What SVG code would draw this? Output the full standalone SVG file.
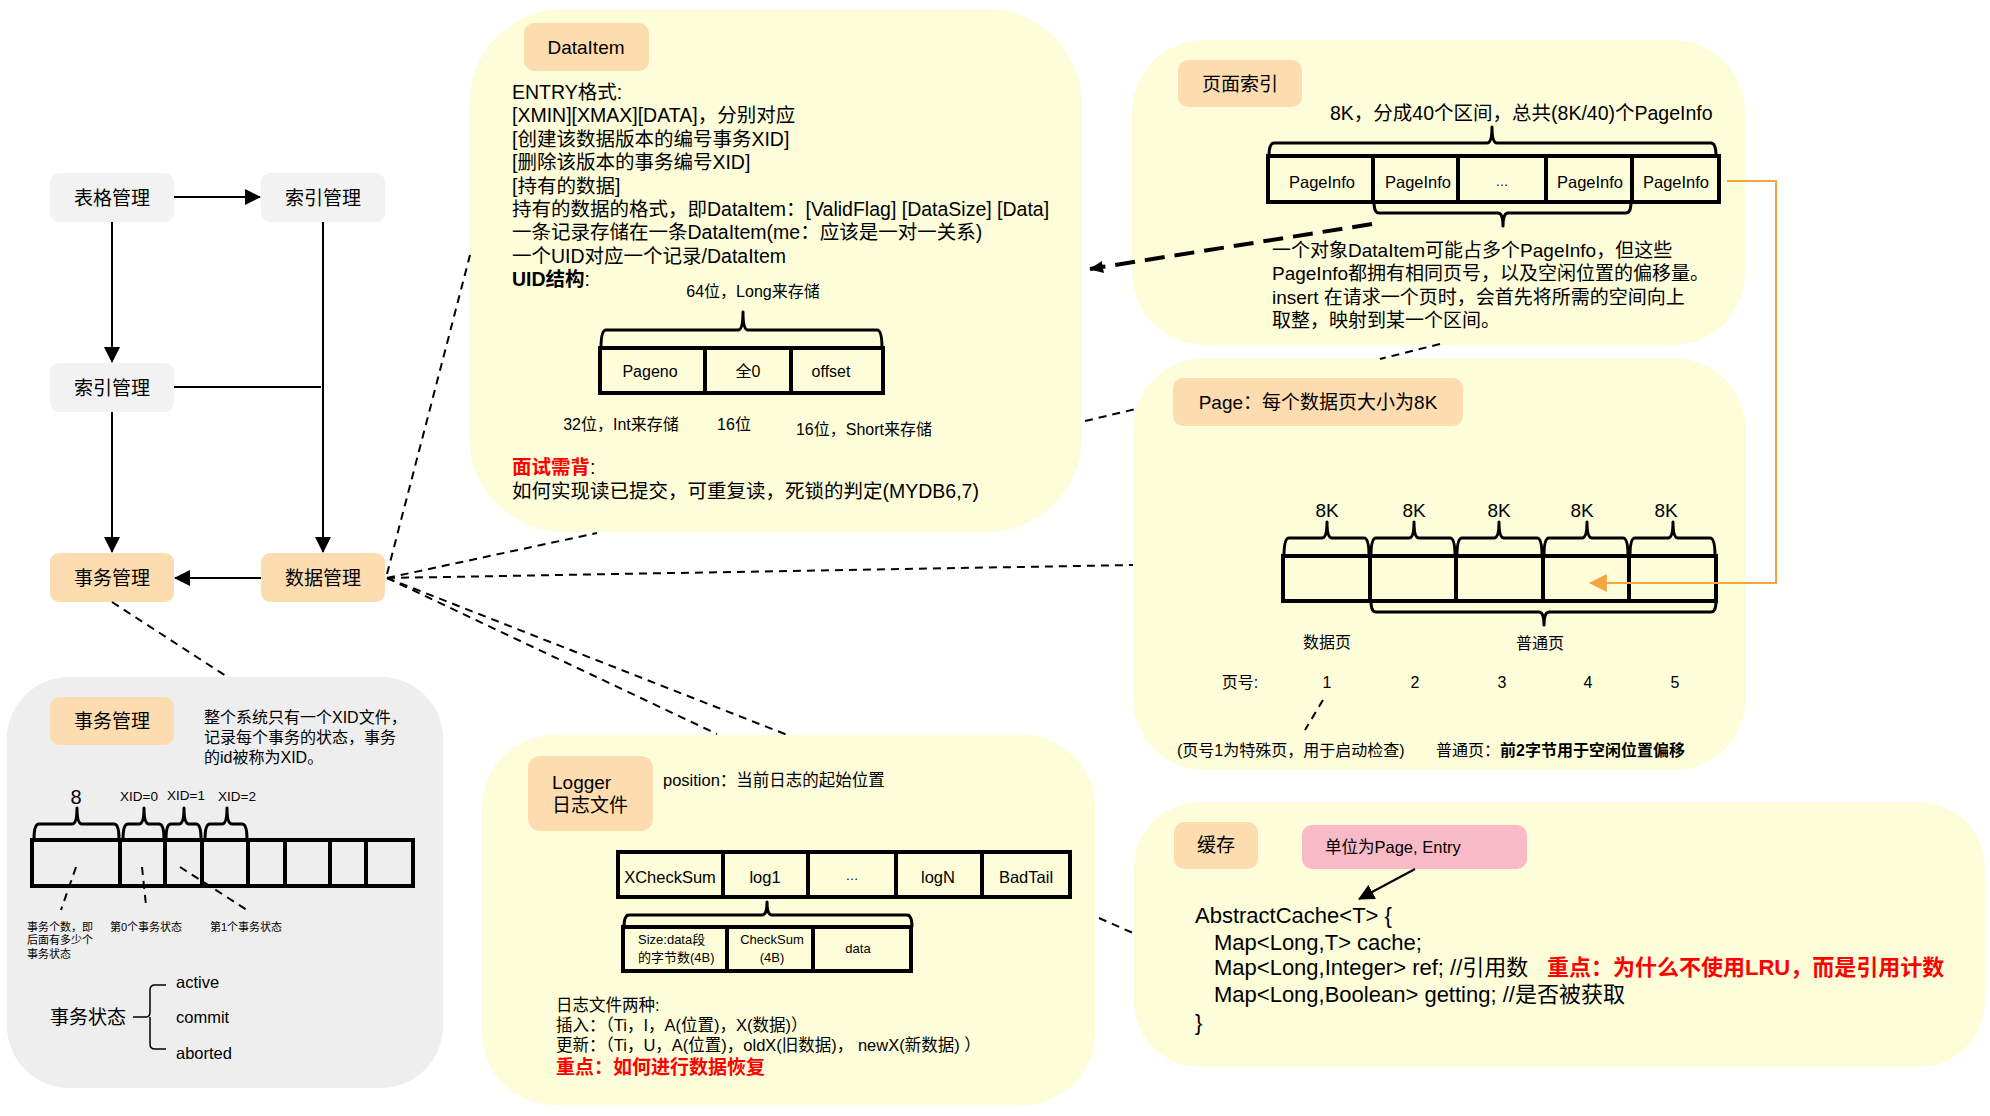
<svg xmlns="http://www.w3.org/2000/svg" width="1990" height="1116" viewBox="0 0 1990 1116">
<style>
text{font-family:"Liberation Sans","Noto Sans CJK SC",sans-serif;fill:#000}
.m{text-anchor:middle}
.gray{fill:#f2f2f2}
.org{fill:#fddcb0}
.panel{fill:#fdfdda}
.grid{fill:none;stroke:#000;stroke-width:4}
.brace{fill:none;stroke:#000;stroke-width:3;stroke-linejoin:round}
.solid{stroke:#000;stroke-width:2;fill:none}
.dash{stroke:#000;stroke-width:2;stroke-dasharray:8 6;fill:none}
.red{fill:#ff0000;font-weight:bold}
.b{font-weight:bold}
</style>
<defs>
<marker id="ah" viewBox="0 0 16 16" markerWidth="16" markerHeight="16" refX="15" refY="8" orient="auto" markerUnits="userSpaceOnUse"><path d="M0,0 L16,8 L0,16 z" fill="#000"/></marker>
<marker id="ahs" viewBox="0 0 16 16" markerWidth="14" markerHeight="14" refX="15" refY="8" orient="auto" markerUnits="userSpaceOnUse"><path d="M0,1 L16,8 L0,15 z" fill="#000"/></marker>
<marker id="aho" viewBox="0 0 16 16" markerWidth="18" markerHeight="18" refX="15" refY="8" orient="auto" markerUnits="userSpaceOnUse"><path d="M0,0 L16,8 L0,16 z" fill="#f5a540"/></marker>
</defs>

<!-- panels -->
<g id="panel-xid">
<rect x="7" y="677" width="436" height="411" rx="62" fill="#eeeeee"/>
<rect x="50" y="697" width="124" height="48" rx="9" class="org"/>
<text x="112" y="728" class="m" font-size="19">事务管理</text>
<text x="204" y="723" font-size="16">整个系统只有一个XID文件，</text>
<text x="204" y="743" font-size="16">记录每个事务的状态，事务</text>
<text x="204" y="763" font-size="16">的id被称为XID。</text>
<text x="76" y="804" class="m" font-size="20">8</text>
<text x="139" y="801" class="m" font-size="13.5">XID=0</text>
<text x="186" y="800" class="m" font-size="13.5">XID=1</text>
<text x="237" y="801" class="m" font-size="13.5">XID=2</text>
<path class="brace" d="M34,839 Q34,824 39,824 L72,824 Q77,824 77,808 Q77,824 82,824 L114,824 Q119,824 119,839"/>
<path class="brace" d="M123,839 Q123,824 128,824 L139,824 Q144,824 144,808 Q144,824 149,824 L159,824 Q164,824 164,839"/>
<path class="brace" d="M166,839 Q166,824 171,824 L179,824 Q184,824 184,808 Q184,824 189,824 L196,824 Q201,824 201,839"/>
<path class="brace" d="M205,839 Q205,824 210,824 L222,824 Q227,824 227,808 Q227,824 232,824 L242,824 Q247,824 247,839"/>
<rect x="32" y="840" width="381" height="46" class="grid"/>
<path class="grid" d="M120,840V886M165,840V886M202,840V886M248,840V886M285,840V886M330,840V886M366,840V886"/>
<path class="dash" d="M76,867 L61,910 M142,867 L146,905 M180,867 L247,910"/>
<text x="27" y="931" font-size="11">事务个数，即</text>
<text x="27" y="944" font-size="11">后面有多少个</text>
<text x="27" y="958" font-size="11">事务状态</text>
<text x="110" y="931" font-size="11">第0个事务状态</text>
<text x="210" y="931" font-size="11">第1个事务状态</text>
<text x="50" y="1024" font-size="19">事务状态</text>
<path d="M133,1017 H146 Q150,1017 150,1012 V990 Q150,985 155,985 H166 M150,1017 V1044 Q150,1049 155,1049 H166" fill="none" stroke="#000" stroke-width="1.5"/>
<text x="176" y="988" font-size="16.5">active</text>
<text x="176" y="1023" font-size="16.5">commit</text>
<text x="176" y="1059" font-size="16.5">aborted</text>
</g>

<g id="panel-dataitem">
<rect x="469" y="9" width="613" height="523" rx="95" class="panel"/>
<rect x="524" y="23" width="125" height="48" rx="10" class="org"/>
<text x="586" y="54" class="m" font-size="19">DataItem</text>
<g font-size="19.5">
<text x="512" y="99">ENTRY格式:</text>
<text x="512" y="122.4">[XMIN][XMAX][DATA]，分别对应</text>
<text x="512" y="145.8">[创建该数据版本的编号事务XID]</text>
<text x="512" y="169.2">[删除该版本的事务编号XID]</text>
<text x="512" y="192.6">[持有的数据]</text>
<text x="512" y="216">持有的数据的格式，即DataItem：[ValidFlag] [DataSize] [Data]</text>
<text x="512" y="239.4">一条记录存储在一条DataItem(me：应该是一对一关系)</text>
<text x="512" y="262.8">一个UID对应一个记录/DataItem</text>
<text x="512" y="286.2"><tspan class="b">UID结构</tspan>:</text>
</g>
<text x="753" y="297" class="m" font-size="16">64位，Long来存储</text>
<path class="brace" d="M601,348 Q601,330 606,330 L738,330 Q743,330 743,312 Q743,330 748,330 L877,330 Q882,330 882,348"/>
<rect x="600" y="348" width="283" height="45" class="grid"/>
<path class="grid" d="M705,348V393M791,348V393"/>
<text x="650" y="377" class="m" font-size="16">Pageno</text>
<text x="748" y="377" class="m" font-size="16">全0</text>
<text x="831" y="377" class="m" font-size="16">offset</text>
<text x="621" y="430" class="m" font-size="16">32位，Int来存储</text>
<text x="734" y="430" class="m" font-size="16">16位</text>
<text x="864" y="435" class="m" font-size="16">16位，Short来存储</text>
<text x="512" y="474" font-size="19.5"><tspan class="red">面试需背</tspan>:</text>
<text x="512" y="498" font-size="19.5">如何实现读已提交，可重复读，死锁的判定(MYDB6,7)</text>
</g>

<g id="panel-pageindex">
<rect x="1132" y="40" width="613" height="305" rx="72" class="panel"/>
<rect x="1178" y="60" width="124" height="47" rx="10" class="org"/>
<text x="1240" y="91" class="m" font-size="19">页面索引</text>
<text x="1330" y="120" font-size="19.5">8K，分成40个区间，总共(8K/40)个PageInfo</text>
<path class="brace" d="M1269,156 Q1269,143 1274,143 L1487,143 Q1492,143 1492,127 Q1492,143 1497,143 L1711,143 Q1716,143 1716,156"/>
<rect x="1268" y="156" width="451" height="46" class="grid"/>
<path class="grid" d="M1373,156V202M1458,156V202M1546,156V202M1632,156V202"/>
<g font-size="16.5">
<text x="1322" y="188" class="m">PageInfo</text>
<text x="1418" y="188" class="m">PageInfo</text>
<text x="1502" y="186" class="m" font-size="13">…</text>
<text x="1590" y="188" class="m">PageInfo</text>
<text x="1676" y="188" class="m">PageInfo</text>
</g>
<path class="brace" d="M1374,202 Q1374,213 1379,213 L1498,213 Q1503,213 1503,226 Q1503,213 1508,213 L1626,213 Q1631,213 1631,202"/>
<g font-size="19">
<text x="1272" y="257">一个对象DataItem可能占多个PageInfo，但这些</text>
<text x="1272" y="280">PageInfo都拥有相同页号，以及空闲位置的偏移量。</text>
<text x="1272" y="304">insert 在请求一个页时，会首先将所需的空间向上</text>
<text x="1272" y="327">取整，映射到某一个区间。</text>
</g>
</g>

<g id="panel-page">
<rect x="1133" y="358" width="613" height="412" rx="72" class="panel"/>
<rect x="1173" y="378" width="290" height="48" rx="10" class="org"/>
<text x="1318" y="409" class="m" font-size="19">Page：每个数据页大小为8K</text>
<g font-size="19" class="m">
<text x="1327" y="517" class="m">8K</text>
<text x="1414" y="517" class="m">8K</text>
<text x="1499" y="517" class="m">8K</text>
<text x="1582" y="517" class="m">8K</text>
<text x="1666" y="517" class="m">8K</text>
</g>
<path class="brace" d="M1284,556 Q1284,538 1289,538 L1322,538 Q1327,538 1327,522 Q1327,538 1332,538 L1364,538 Q1369,538 1369,556"/>
<path class="brace" d="M1371,556 Q1371,538 1376,538 L1409,538 Q1414,538 1414,522 Q1414,538 1419,538 L1450,538 Q1455,538 1455,556"/>
<path class="brace" d="M1457,556 Q1457,538 1462,538 L1494,538 Q1499,538 1499,522 Q1499,538 1504,538 L1537,538 Q1542,538 1542,556"/>
<path class="brace" d="M1544,556 Q1544,538 1549,538 L1582,538 Q1587,538 1587,522 Q1587,538 1592,538 L1623,538 Q1628,538 1628,556"/>
<path class="brace" d="M1630,556 Q1630,538 1635,538 L1668,538 Q1673,538 1673,522 Q1673,538 1678,538 L1710,538 Q1715,538 1715,556"/>
<rect x="1283" y="556" width="433" height="45" class="grid"/>
<path class="grid" d="M1370,556V601M1456,556V601M1543,556V601M1629,556V601"/>
<path class="brace" d="M1371,601 Q1371,612 1376,612 L1539,612 Q1544,612 1544,625 Q1544,612 1549,612 L1711,612 Q1716,612 1716,601"/>
<text x="1327" y="648" class="m" font-size="16">数据页</text>
<text x="1540" y="649" class="m" font-size="16">普通页</text>
<text x="1240" y="688" class="m" font-size="16">页号:</text>
<g font-size="16">
<text x="1327" y="688" class="m">1</text>
<text x="1415" y="688" class="m">2</text>
<text x="1502" y="688" class="m">3</text>
<text x="1588" y="688" class="m">4</text>
<text x="1675" y="688" class="m">5</text>
</g>
<path class="dash" d="M1323,700 L1305,730"/>
<text x="1177" y="756" font-size="16">(页号1为特殊页，用于启动检查)</text>
<text x="1436" y="756" font-size="16">普通页：<tspan class="b">前2字节用于空闲位置偏移</tspan></text>
</g>

<g id="panel-logger">
<rect x="482" y="735" width="613" height="370" rx="72" class="panel"/>
<rect x="528" y="756" width="125" height="75" rx="12" class="org"/>
<text x="552" y="789" font-size="19">Logger</text>
<text x="552" y="812" font-size="19">日志文件</text>
<text x="663" y="786" font-size="16.5">position：当前日志的起始位置</text>
<rect x="618" y="852" width="452" height="45" class="grid"/>
<path class="grid" d="M723,852V897M808,852V897M896,852V897M982,852V897"/>
<g font-size="16.5">
<text x="670" y="883" class="m">XCheckSum</text>
<text x="765" y="883" class="m">log1</text>
<text x="852" y="880" class="m" font-size="13">…</text>
<text x="938" y="883" class="m">logN</text>
<text x="1026" y="883" class="m">BadTail</text>
</g>
<path class="brace" d="M624,927 Q624,915 629,915 L762,915 Q767,915 767,902 Q767,915 772,915 L907,915 Q912,915 912,927"/>
<rect x="623" y="927" width="288" height="44" class="grid"/>
<path class="grid" d="M727,927V971M813,927V971"/>
<g font-size="13">
<text x="638" y="944">Size:data段</text>
<text x="638" y="962">的字节数(4B)</text>
<text x="772" y="944" class="m">CheckSum</text>
<text x="772" y="962" class="m">(4B)</text>
<text x="858" y="953" class="m">data</text>
</g>
<g font-size="16.5">
<text x="556" y="1011">日志文件两种:</text>
<text x="556" y="1031">插入：（Ti，I，A(位置)，X(数据)）</text>
<text x="556" y="1051">更新：（Ti，U，A(位置)，oldX(旧数据)， newX(新数据) ）</text>
</g>
<text x="556" y="1074" font-size="19" class="red">重点：如何进行数据恢复</text>
</g>

<g id="panel-cache">
<rect x="1134" y="802" width="851" height="265" rx="66" class="panel"/>
<rect x="1174" y="822" width="84" height="47" rx="10" class="org"/>
<text x="1216" y="852" class="m" font-size="19">缓存</text>
<rect x="1302" y="825" width="225" height="44" rx="10" fill="#f8bac6"/>
<text x="1325" y="853" font-size="16.5">单位为Page, Entry</text>
<line x1="1415" y1="869" x2="1359" y2="899" class="solid" marker-end="url(#ah)"/>
<g font-size="22">
<text x="1195" y="923">AbstractCache&lt;T&gt; {</text>
<text x="1214" y="950">Map&lt;Long,T&gt; cache;</text>
<text x="1214" y="975">Map&lt;Long,Integer&gt; ref; //引用数</text>
<text x="1547" y="975" class="red">重点：为什么不使用LRU，而是引用计数</text>
<text x="1214" y="1002">Map&lt;Long,Boolean&gt; getting; //是否被获取</text>
<text x="1195" y="1030">}</text>
</g>
</g>

<!-- flow nodes -->
<g id="n-biaoge"><rect x="50" y="173" width="124" height="49" rx="9" class="gray"/><text x="112" y="205" class="m" font-size="19">表格管理</text></g>
<g id="n-suoyin1"><rect x="261" y="173" width="124" height="49" rx="9" class="gray"/><text x="323" y="205" class="m" font-size="19">索引管理</text></g>
<g id="n-suoyin2"><rect x="50" y="363" width="124" height="49" rx="9" class="gray"/><text x="112" y="395" class="m" font-size="19">索引管理</text></g>
<g id="n-shiwu"><rect x="50" y="553" width="124" height="49" rx="9" class="org"/><text x="112" y="585" class="m" font-size="19">事务管理</text></g>
<g id="n-shuju"><rect x="261" y="553" width="124" height="49" rx="9" class="org"/><text x="323" y="585" class="m" font-size="19">数据管理</text></g>

<g id="connectors">
<line x1="174" y1="197" x2="260" y2="197" class="solid" marker-end="url(#ah)"/>
<line x1="112" y1="222" x2="112" y2="362" class="solid" marker-end="url(#ah)"/>
<line x1="112" y1="412" x2="112" y2="552" class="solid" marker-end="url(#ah)"/>
<line x1="323" y1="222" x2="323" y2="552" class="solid" marker-end="url(#ah)"/>
<line x1="174" y1="387" x2="321" y2="387" class="solid"/>
<line x1="261" y1="578" x2="175" y2="578" class="solid" marker-end="url(#ah)"/>
<path class="dash" d="M387,574 L470,255"/>
<path class="dash" d="M387,578 L597,533"/>
<path class="dash" d="M1085,421 L1136,409"/>
<path class="dash" d="M387,578 L1133,565"/>
<path class="dash" d="M387,578 L717,734"/>
<path class="dash" d="M387,578 L790,736"/>
<path class="dash" d="M1440,344 L1380,359"/>
<path class="dash" d="M112,602 L226,676"/>
<path class="dash" d="M1099,918 L1133,933"/>
<line x1="1372" y1="224" x2="1090" y2="269" stroke="#000" stroke-width="4" stroke-dasharray="20 10" marker-end="url(#ahs)"/>
<polyline points="1727,181 1776,181 1776,583 1590,583" fill="none" stroke="#f5a540" stroke-width="2" marker-end="url(#aho)"/>
</g>
</svg>
